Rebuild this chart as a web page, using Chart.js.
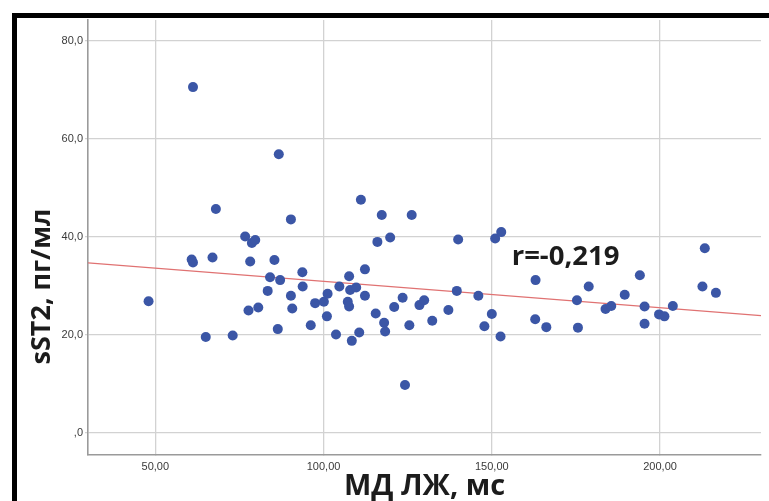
<!DOCTYPE html>
<html>
<head>
<meta charset="utf-8">
<script src="https://cdn.jsdelivr.net/npm/chart.js@4/dist/chart.umd.min.js"></script>
<style>
  html, body { margin: 0; padding: 0; background: #fff; }
  #wrap { position: relative; width: 769px; height: 501px; overflow: hidden; }
  #frameTop { position: absolute; left: 12px; top: 13px; right: 0; height: 5px; background: #000; }
  #frameLeft { position: absolute; left: 12px; top: 13px; bottom: 0; width: 5px; background: #000; }
  canvas { position: absolute; left: 0; top: 0; }
</style>
</head>
<body>
<div id="wrap">
  <canvas id="c" width="769" height="501"></canvas>
  <div id="frameTop"></div>
  <div id="frameLeft"></div>
</div>
<script>
// ---- data ----
const xValues = [
  48.0, 61.2, 60.8, 61.2, 67.0, 68.0, 65.0, 73.0, 76.7, 78.7,
  79.7, 78.2, 85.4, 86.7, 90.3, 84.1, 87.1, 83.4, 93.7, 93.8,
  90.3, 90.7, 77.7, 80.6, 86.4, 96.2, 97.5, 100.1, 101.2, 101.0,
  111.1, 117.3, 126.2, 116.0, 119.8, 112.3, 107.6, 104.7, 107.9, 109.7,
  107.2, 107.6, 112.3, 103.7, 108.4, 110.6, 115.5, 118.0, 118.3, 121.0,
  123.5, 128.5, 129.9, 125.5, 132.3, 137.1, 139.6, 140.0, 124.2, 151.0,
  152.8, 146.0, 150.0, 147.8, 152.6, 163.0, 162.9, 166.2, 175.3, 175.6,
  178.8, 194.0, 189.5, 183.8, 185.5, 195.4, 195.4, 199.7, 201.3, 203.8,
  213.3, 212.6, 216.6
];
const yValues = [
  26.9, 70.6, 35.4, 34.8, 35.8, 45.7, 19.6, 19.9, 40.1, 38.8,
  39.4, 35.0, 35.3, 56.9, 43.6, 31.8, 31.2, 29.0, 32.8, 29.9,
  28.0, 25.4, 25.0, 25.6, 21.2, 22.0, 26.5, 26.8, 28.4, 23.8,
  47.6, 44.5, 44.5, 39.0, 39.9, 33.4, 32.0, 29.9, 29.2, 29.7,
  26.8, 25.8, 28.0, 20.1, 18.8, 20.5, 24.4, 22.5, 20.7, 25.7,
  27.6, 26.1, 27.1, 22.0, 22.9, 25.1, 29.0, 39.5, 9.8, 39.7,
  41.0, 28.0, 24.3, 21.8, 19.7, 31.2, 23.2, 21.6, 27.1, 21.5,
  29.9, 32.2, 28.2, 25.3, 25.9, 25.8, 22.3, 24.2, 23.8, 25.9,
  37.7, 29.9, 28.6
];
const trendX = [30, 230];
const trendY = [34.73, 23.96];
const xTicks = [50, 100, 150, 200];
const xTickLabels = ['50,00', '100,00', '150,00', '200,00'];
const yTicks = [0, 20, 40, 60, 80];
const yTickLabels = [',0', '20,0', '40,0', '60,0', '80,0'];
const xTitle = 'МД ЛЖ, мс';
const yTitle = 'sST2, пг/мл';
const rLabel = 'r=-0,219';
const rLabelPos = [155.9, 34.3];

// ---- chart ----
const scatterData = xValues.map((x, i) => ({ x: x, y: yValues[i] }));
const trendData = trendX.map((x, i) => ({ x: x, y: trendY[i] }));

const textPlugin = {
  id: 'texts',
  afterDraw(chart) {
    const ctx = chart.ctx;
    const a = chart.chartArea;
    const xs = chart.scales.x, ys = chart.scales.y;
    ctx.save();
    ctx.fillStyle = '#1c1c1c';
    // r annotation
    ctx.font = 'bold 27.5px "Open Sans"';
    ctx.textAlign = 'left';
    ctx.textBaseline = 'alphabetic';
    ctx.fillText(rLabel, xs.getPixelForValue(rLabelPos[0]), ys.getPixelForValue(rLabelPos[1]));
    // x title
    ctx.font = 'bold 29px "Open Sans"';
    ctx.textAlign = 'center';
    ctx.fillText(xTitle, (a.left + a.right) / 2, 495);
    // y title
    ctx.font = 'bold 27px "Open Sans"';
    ctx.translate(50, 286.5);
    ctx.rotate(-Math.PI / 2);
    ctx.fillText(yTitle, 0, 0);
    ctx.restore();
  }
};

new Chart(document.getElementById('c'), {
  data: {
    datasets: [
      {
        type: 'scatter',
        data: scatterData,
        backgroundColor: '#3b56a6',
        borderColor: '#3b56a6',
        borderWidth: 0,
        pointRadius: 5,
        pointHoverRadius: 5,
        order: 0
      },
      {
        type: 'line',
        data: trendData,
        borderColor: '#e07272',
        borderWidth: 1.2,
        pointRadius: 0,
        fill: false,
        order: 1
      }
    ]
  },
  options: {
    responsive: false,
    animation: false,
    devicePixelRatio: 1,
    layout: { padding: { top: 20, right: 8, left: 0, bottom: 0 } },
    plugins: { legend: { display: false }, tooltip: { enabled: false } },
    scales: {
      x: {
        type: 'linear',
        min: 30,
        max: 230,
        afterBuildTicks: s => { s.ticks = xTicks.map(v => ({ value: v })); },
        afterFit: s => { s.height = 46; },
        ticks: {
          callback: v => xTickLabels[xTicks.indexOf(v)],
          font: { family: '"Liberation Sans", Arial', size: 11 },
          color: '#3a3a3a',
          padding: 5,
          maxRotation: 0
        },
        grid: { color: '#d2d2d2', lineWidth: 1.3, tickLength: 0 },
        border: { color: '#9a9a9a', width: 1.6 }
      },
      y: {
        type: 'linear',
        min: -4.5,
        max: 84.3,
        afterBuildTicks: s => { s.ticks = yTicks.map(v => ({ value: v })); },
        afterFit: s => { s.width = 88; },
        ticks: {
          callback: v => yTickLabels[yTicks.indexOf(v)],
          font: { family: '"Liberation Sans", Arial', size: 11 },
          color: '#3a3a3a',
          padding: 2
        },
        grid: { color: '#d2d2d2', lineWidth: 1.3, tickLength: 3 },
        border: { color: '#9a9a9a', width: 1.6 }
      }
    }
  },
  plugins: [textPlugin]
});
</script>
</body>
</html>
